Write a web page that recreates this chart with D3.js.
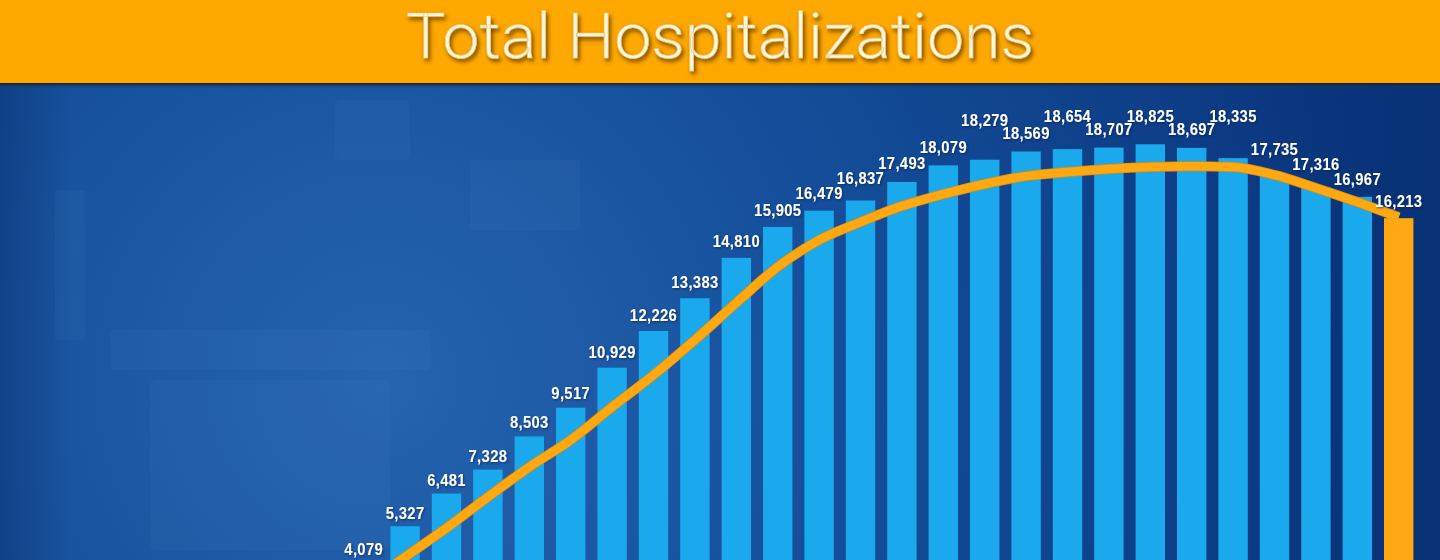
<!DOCTYPE html>
<html lang="en">
<head>
<meta charset="UTF-8">
<title>Total Hospitalizations</title>
<script src="https://cdn.jsdelivr.net/npm/d3@7/dist/d3.min.js"></script>
<style>
  * { margin: 0; padding: 0; box-sizing: border-box; }
  body { width: 1440px; height: 560px; overflow: hidden; background: #0e4590; }
  svg { display: block; }
  .bar-label { font-family: 'Liberation Sans', Arial, sans-serif; font-weight: bold; font-size: 17px; fill: #fff; letter-spacing: 0.4px; }
  .title { font-family: Roboto, 'Liberation Sans', sans-serif; font-weight: 300; font-size: 63px; fill: #fff6dc; stroke: #e9c77e; stroke-width: 0.6px; }
</style>
</head>
<body>
<svg id="chart" width="1440" height="560"></svg>
<script>
// ─── Data ────────────────────────────────────────────────────────────────────
const days = ['Day 1', 'Day 2', 'Day 3', 'Day 4', 'Day 5', 'Day 6', 'Day 7', 'Day 8', 'Day 9',
  'Day 10', 'Day 11', 'Day 12', 'Day 13', 'Day 14', 'Day 15', 'Day 16', 'Day 17', 'Day 18',
  'Day 19', 'Day 20', 'Day 21', 'Day 22', 'Day 23', 'Day 24', 'Day 25', 'Day 26'];

const hospitalized = [4079, 5327, 6481, 7328, 8503, 9517, 10929, 12226, 13383, 14810, 15905,
  16479, 16837, 17493, 18079, 18279, 18569, 18654, 18707, 18825, 18697, 18335, 17735,
  17316, 16967, 16213];

// trend line
const trend = [3200, 4240, 5265, 6360, 7420, 8375, 9540, 10670, 11910, 13220, 14490, 15440,
  16075, 16640, 17060, 17420, 17700, 17845, 17950, 18020, 18050, 18020, 17740, 17280,
  16785, 16250];

// labels pushed up a row so they don't collide with neighbours
const raisedLabels = ['Day 16', 'Day 18', 'Day 20', 'Day 22'];

// ─── Layout ──────────────────────────────────────────────────────────────────
const W = 1440, H = 560, HEADER = 83;
const BLUE = '#1aa9ec', ORANGE = '#ffa812';
const LABEL_SEP = 15;   // min vertical distance between neighbouring labels
const LABEL_SQUEEZE = 0.87;

const svg = d3.select('#chart');
const defs = svg.append('defs');

// background: stand-in for the tinted hospital photo
const bg = defs.append('radialGradient').attr('id', 'bg')
  .attr('gradientUnits', 'userSpaceOnUse')
  .attr('cx', 380).attr('cy', 380).attr('r', 1000);
bg.append('stop').attr('offset', 0).attr('stop-color', '#2664b0');
bg.append('stop').attr('offset', 0.45).attr('stop-color', '#154f9b');
bg.append('stop').attr('offset', 1).attr('stop-color', '#0a367e');

const edge = defs.append('linearGradient').attr('id', 'edge').attr('x1', 0).attr('x2', 1);
edge.append('stop').attr('offset', 0).attr('stop-color', '#062b66').attr('stop-opacity', 0.4);
edge.append('stop').attr('offset', 0.05).attr('stop-color', '#062b66').attr('stop-opacity', 0);
edge.append('stop').attr('offset', 0.85).attr('stop-color', '#062b66').attr('stop-opacity', 0);
edge.append('stop').attr('offset', 1).attr('stop-color', '#062b66').attr('stop-opacity', 0.35);

const headShadow = defs.append('linearGradient').attr('id', 'headShadow').attr('x1', 0).attr('x2', 0).attr('y1', 0).attr('y2', 1);
headShadow.append('stop').attr('offset', 0).attr('stop-color', '#1d1a14').attr('stop-opacity', 0.9);
headShadow.append('stop').attr('offset', 1).attr('stop-color', '#0e4590').attr('stop-opacity', 0);

const titleFx = defs.append('filter').attr('id', 'titleFx').attr('x', '-5%').attr('y', '-20%').attr('width', '110%').attr('height', '140%');
titleFx.append('feDropShadow').attr('dx', 2).attr('dy', 3).attr('stdDeviation', 2)
  .attr('flood-color', '#5b3800').attr('flood-opacity', 0.85);

const labelFx = defs.append('filter').attr('id', 'labelFx');
labelFx.append('feDropShadow').attr('dx', 1).attr('dy', 1).attr('stdDeviation', 0.8)
  .attr('flood-color', '#06245a').attr('flood-opacity', 0.7);

svg.append('rect').attr('width', W).attr('height', H).attr('fill', 'url(#bg)');
svg.append('rect').attr('width', W).attr('height', H).attr('fill', 'url(#edge)');

// faint photo shapes (monitors / bed) to break up the flat backdrop
const ghosts = svg.append('g').attr('fill', '#5d95d6').attr('opacity', 0.07);
ghosts.append('rect').attr('x', 335).attr('y', 100).attr('width', 75).attr('height', 60).attr('rx', 6);
ghosts.append('rect').attr('x', 110).attr('y', 330).attr('width', 320).attr('height', 40).attr('rx', 4);
ghosts.append('rect').attr('x', 150).attr('y', 380).attr('width', 240).attr('height', 170).attr('rx', 6);
ghosts.append('rect').attr('x', 55).attr('y', 190).attr('width', 30).attr('height', 150).attr('rx', 4);
ghosts.append('rect').attr('x', 470).attr('y', 160).attr('width', 110).attr('height', 70).attr('rx', 4);

// ─── Scales ──────────────────────────────────────────────────────────────────
const x = d3.scaleBand()
  .domain(days)
  .range([343, 1419.4])
  .paddingInner(0.29)
  .paddingOuter(0.145);

const y = d3.scaleLinear().domain([0, 20000]).range([677, 111]);

const rows = days.map((d, i) => ({ day: d, value: hospitalized[i], trend: trend[i] }));
const last = rows.length - 1;

// ─── Bars ────────────────────────────────────────────────────────────────────
svg.append('g').selectAll('rect')
  .data(rows.slice(0, last))
  .join('rect')
  .attr('x', d => x(d.day))
  .attr('y', d => y(d.value))
  .attr('width', x.bandwidth())
  .attr('height', d => y(0) - y(d.value))
  .attr('fill', BLUE);

// ─── Trend line ──────────────────────────────────────────────────────────────
const line = d3.line()
  .x(d => x(d.day) + x.bandwidth() / 2)
  .y(d => y(d.trend))
  .curve(d3.curveMonotoneX);

svg.append('path').datum(rows)
  .attr('d', line)
  .attr('fill', 'none')
  .attr('stroke', '#d48d10')
  .attr('stroke-width', 10);

svg.append('path').datum(rows)
  .attr('d', line)
  .attr('fill', 'none')
  .attr('stroke', ORANGE)
  .attr('stroke-width', 8.5);

// latest day drawn in orange on top, so the line runs into it
svg.append('rect').datum(rows[last])
  .attr('x', d => x(d.day))
  .attr('y', d => y(d.value))
  .attr('width', x.bandwidth())
  .attr('height', d => y(0) - y(d.value))
  .attr('fill', ORANGE);

// ─── Value labels ────────────────────────────────────────────────────────────
// baseline sits a little above the bar (gap grows with bar height), then
// neighbours are nudged apart so the numbers never overlap
const fmt = d3.format(',');
const raised = rows.map(d => raisedLabels.includes(d.day));
const labelY = rows.map(d => {
  const top = y(d.value);
  return top - (5 + 0.014 * (y(0) - top));
});

for (let i = 1; i <= last; i++) {          // rising side, left → right
  if (raised[i] || raised[i - 1] || rows[i].value < rows[i - 1].value) continue;
  labelY[i] = Math.min(labelY[i], labelY[i - 1] - LABEL_SEP);
}
for (let i = last - 1; i >= 0; i--) {      // falling side, right → left
  if (raised[i] || raised[i + 1] || rows[i].value < rows[i + 1].value) continue;
  labelY[i] = Math.min(labelY[i], labelY[i + 1] - LABEL_SEP);
}
rows.forEach((d, i) => {
  if (!raised[i]) return;
  const prev = i > 0 ? labelY[i - 1] : labelY[i];
  const next = i < last ? labelY[i + 1] : labelY[i];
  labelY[i] = Math.min(prev, next) - 13;
});

svg.append('g').attr('filter', 'url(#labelFx)')
  .selectAll('text')
  .data(rows)
  .join('text')
  .attr('class', 'bar-label')
  .attr('transform', (d, i) => `translate(${x(d.day) + x.bandwidth() / 2},${labelY[i]}) scale(${LABEL_SQUEEZE},1)`)
  .attr('text-anchor', 'middle')
  .text(d => fmt(d.value));

// ─── Header band ─────────────────────────────────────────────────────────────
svg.append('rect').attr('x', 0).attr('y', HEADER).attr('width', W).attr('height', 6).attr('fill', 'url(#headShadow)');
svg.append('rect').attr('x', 0).attr('y', 0).attr('width', W).attr('height', HEADER).attr('fill', '#ffa800');

svg.append('text')
  .attr('class', 'title')
  .attr('x', W / 2)
  .attr('y', 58)
  .attr('text-anchor', 'middle')
  .attr('textLength', 628)
  .attr('lengthAdjust', 'spacingAndGlyphs')
  .attr('filter', 'url(#titleFx)')
  .text('Total Hospitalizations');
</script>
</body>
</html>
